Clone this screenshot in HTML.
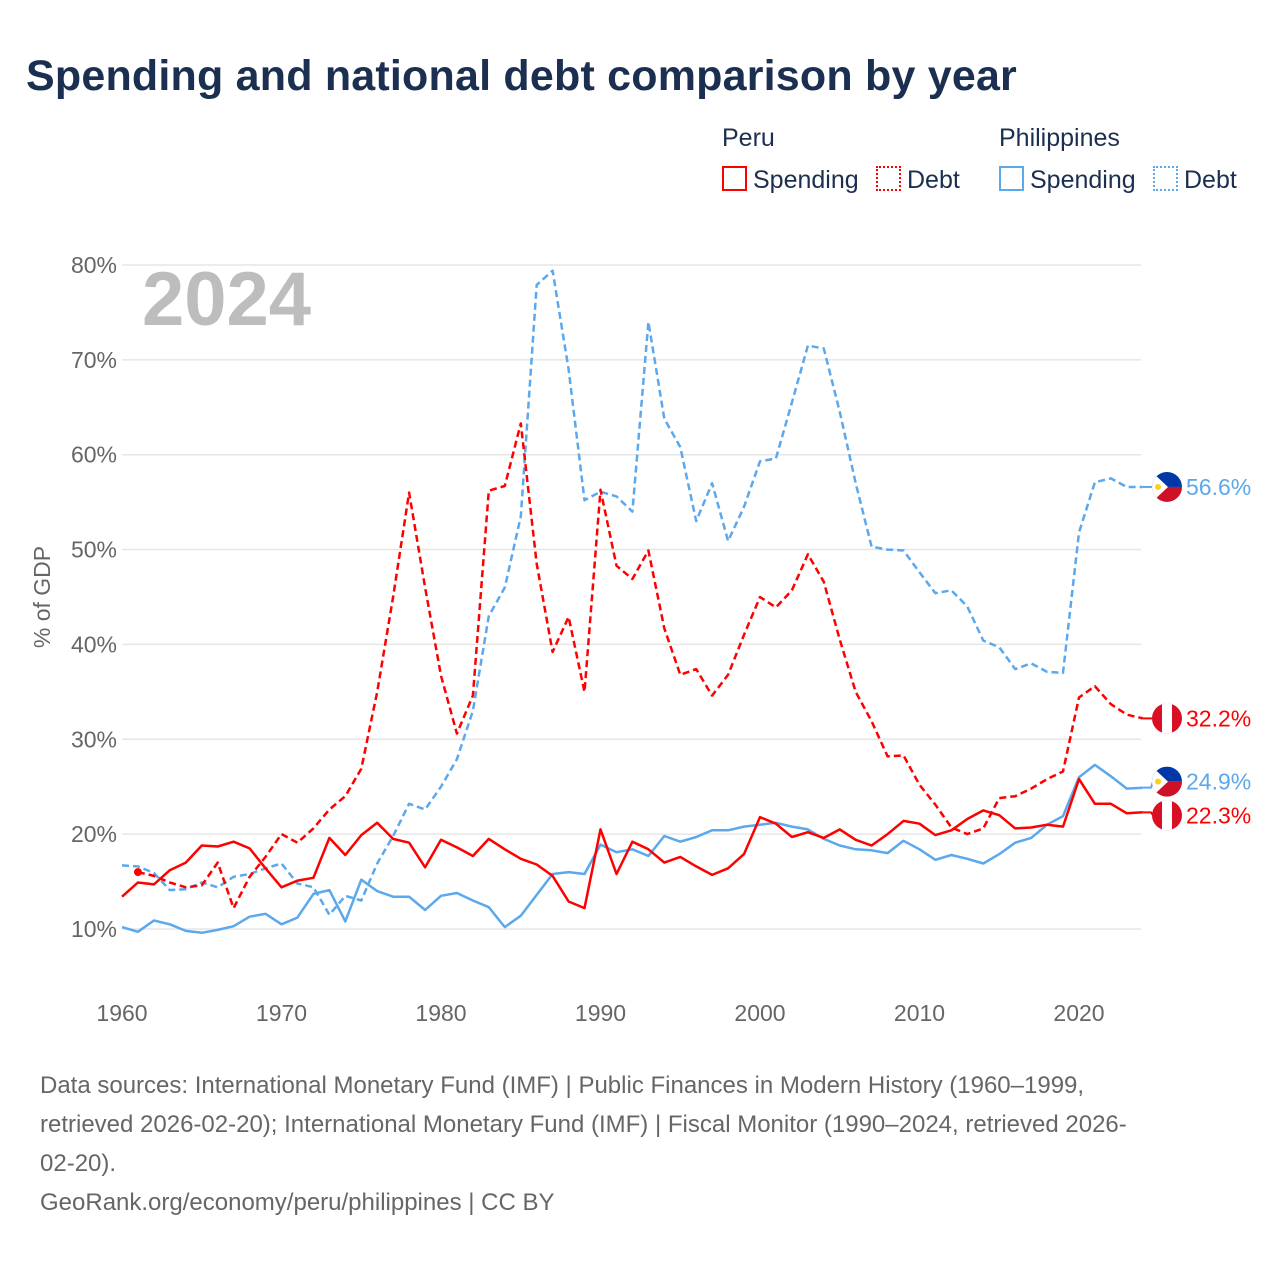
<!DOCTYPE html>
<html><head><meta charset="utf-8">
<style>
body{margin:0;background:#fff;font-family:"Liberation Sans",sans-serif;}
#root{position:relative;width:1280px;height:1280px;overflow:hidden;}
.t{position:absolute;white-space:nowrap;}
</style></head>
<body><div id="root">
<div class="t" style="left:26px;top:52px;font-size:43px;letter-spacing:0.2px;font-weight:bold;color:#1b2f50;">Spending and national debt comparison by year</div>
<div class="t" style="left:722px;top:124px;font-size:25px;color:#1b2f50;">Peru</div>
<div class="t" style="left:999px;top:124px;font-size:25px;color:#1b2f50;">Philippines</div>
<div class="t" style="left:722px;top:166px;font-size:25px;color:#1b2f50;"><span style="display:inline-block;width:21px;height:21px;border:2px solid #f00;vertical-align:-3px;margin-right:6px"></span>Spending</div>
<div class="t" style="left:876px;top:166px;font-size:25px;color:#1b2f50;"><span style="display:inline-block;width:21px;height:21px;border:2px dotted #f00;vertical-align:-3px;margin-right:6px"></span>Debt</div>
<div class="t" style="left:999px;top:166px;font-size:25px;color:#1b2f50;"><span style="display:inline-block;width:21px;height:21px;border:2px solid #5ba8ec;vertical-align:-3px;margin-right:6px"></span>Spending</div>
<div class="t" style="left:1153px;top:166px;font-size:25px;color:#1b2f50;"><span style="display:inline-block;width:21px;height:21px;border:2px dotted #5ba8ec;vertical-align:-3px;margin-right:6px"></span>Debt</div>
<svg id="chart" width="1280" height="1280" style="position:absolute;left:0;top:0"></svg>
<div class="t" style="left:40px;top:1066px;font-size:24px;line-height:39px;color:#666;">Data sources: International Monetary Fund (IMF) | Public Finances in Modern History (1960–1999,<br>retrieved 2026-02-20); International Monetary Fund (IMF) | Fiscal Monitor (1990–2024, retrieved 2026-<br>02-20).<br>GeoRank.org/economy/peru/philippines | CC BY</div>
</div>
<script>
const years=[];for(let y=1960;y<=2024;y++)years.push(y);
const peruSpending=[13.4,14.9,14.7,16.2,17.0,18.8,18.7,19.2,18.5,16.4,14.4,15.1,15.4,19.6,17.8,19.9,21.2,19.5,19.1,16.5,19.4,18.6,17.7,19.5,18.4,17.4,16.8,15.6,12.9,12.2,20.5,15.8,19.2,18.4,17.0,17.6,16.6,15.7,16.4,17.9,21.8,21.1,19.7,20.2,19.6,20.5,19.4,18.8,20.0,21.4,21.1,19.9,20.4,21.6,22.5,22.0,20.6,20.7,21.0,20.8,25.8,23.2,23.2,22.2,22.3];
const peruDebt=[null,16.0,15.6,14.9,14.4,14.6,17.0,12.2,15.5,17.6,20.0,19.1,20.6,22.6,24.0,26.9,35.0,45.0,56.0,46.0,36.7,30.6,34.6,56.2,56.7,63.3,48.5,39.2,42.9,35.0,56.3,48.3,46.9,49.9,41.7,36.8,37.4,34.6,36.8,41.0,45.0,43.9,45.7,49.5,46.6,40.5,35.0,31.9,28.2,28.3,25.2,23.1,20.7,20.0,20.6,23.8,24.0,24.8,25.8,26.6,34.4,35.6,33.7,32.6,32.2];
const phlSpending=[10.2,9.7,10.9,10.5,9.8,9.6,9.9,10.3,11.3,11.6,10.5,11.2,13.7,14.1,10.8,15.2,14.0,13.4,13.4,12.0,13.5,13.8,13.0,12.3,10.2,11.4,13.6,15.8,16.0,15.8,18.9,18.1,18.4,17.7,19.8,19.2,19.7,20.4,20.4,20.8,21.0,21.2,20.8,20.5,19.5,18.8,18.4,18.3,18.0,19.3,18.4,17.3,17.8,17.4,16.9,17.9,19.1,19.6,21.0,21.9,26.0,27.3,26.1,24.8,24.9];
const phlDebt=[16.7,16.6,15.9,14.1,14.2,14.9,14.4,15.5,15.8,16.4,16.9,14.8,14.4,11.5,13.5,13.0,16.9,19.8,23.2,22.6,25.0,27.9,33.0,43.0,46.0,53.5,77.9,79.4,69.0,55.2,56.1,55.6,54.0,74.0,63.8,60.8,53.0,57.0,50.9,54.5,59.3,59.6,65.5,71.5,71.2,64.5,57.0,50.3,50.0,49.9,47.6,45.4,45.7,44.0,40.4,39.7,37.4,38.0,37.1,37.0,51.8,57.1,57.5,56.6,56.6];
const yTicks=[10,20,30,40,50,60,70,80];
const xTicks=[1960,1970,1980,1990,2000,2010,2020];
const NS="http://www.w3.org/2000/svg";
const svg=document.getElementById('chart');
const X=y=>122+(y-1960)*15.95;
const Y=v=>929-(v-10)*9.486;
function mk(tag,at,parent){const e=document.createElementNS(NS,tag);for(const k in at)e.setAttribute(k,at[k]);(parent||svg).appendChild(e);return e;}
yTicks.forEach(t=>{
  const g=mk('line',{x1:122,x2:1141,y1:Y(t),y2:Y(t),stroke:'#e6e6e6','stroke-width':1.5});
  
  
  const l=mk('text',{x:117,y:Y(t)+8,'text-anchor':'end','font-size':23,fill:'#666','font-family':'Liberation Sans, sans-serif'});
  l.textContent=t+'%';
  
  
});
xTicks.forEach(t=>{
  const l=mk('text',{x:X(t),y:1021,'text-anchor':'middle','font-size':23,fill:'#666','font-family':'Liberation Sans, sans-serif'});
  l.textContent=t;
  
  
});
const yt=mk('text',{x:0,y:0,transform:'translate(50,597) rotate(-90)','text-anchor':'middle','font-size':23,fill:'#666','font-family':'Liberation Sans, sans-serif'});
yt.textContent='% of GDP';


const yr=mk('text',{x:142,y:325,'font-size':76,'font-weight':'bold',fill:'#bdbdbd','font-family':'Liberation Sans, sans-serif'});
yr.textContent='2024';


function series(arr,color,dash,name){
  let d='';let pen=false;
  arr.forEach((v,i)=>{if(v==null){pen=false;return;}d+=(pen?'L':'M')+X(years[i]).toFixed(1)+','+Y(v).toFixed(1);pen=true;});
  const p=mk('path',{d:d,fill:'none',stroke:color,'stroke-width':2.5,'stroke-linejoin':'round'});
  if(dash)p.setAttribute('stroke-dasharray','7,4');
  
  
}
series(phlSpending,'#5ba8ec',false,'line-philippines-spending');
series(phlDebt,'#5ba8ec',true,'line-philippines-debt');
series(peruSpending,'#f00',false,'line-peru-spending');
series(peruDebt,'#f00',true,'line-peru-debt');
const dot=mk('circle',{cx:X(1961),cy:Y(peruDebt[1]),r:4,fill:'#f00'});


function flag(v,country,color,name,shift){
  const vy=Y(v),cy=vy+shift,cx=1167;
  const g=mk('g',{});
  
  
  mk('polyline',{points:X(2024)+','+vy+' '+(cx-16)+','+vy+' '+(cx-14)+','+cy,fill:'none',stroke:color,'stroke-width':2},g);
  const cid='c'+name;
  const cp=mk('clipPath',{id:cid},g);mk('circle',{cx:cx,cy:cy,r:15},cp);
  const f=mk('g',{'clip-path':'url(#'+cid+')'},g);
  if(country==='peru'){
    mk('rect',{x:cx-15,y:cy-15,width:30,height:30,fill:'#d91023'},f);
    mk('rect',{x:cx-5,y:cy-15,width:10,height:30,fill:'#fff'},f);
  }else{
    mk('rect',{x:cx-15,y:cy-15,width:30,height:15,fill:'#0038a8'},f);
    mk('rect',{x:cx-15,y:cy,width:30,height:15,fill:'#ce1126'},f);
    mk('polygon',{points:(cx-15)+','+(cy-15)+' '+(cx+1)+','+cy+' '+(cx-15)+','+(cy+15),fill:'#fff'},f);
    mk('circle',{cx:cx-9,cy:cy,r:3,fill:'#fcd116'},f);
  }
  const t=mk('text',{x:1186,y:cy+8,'font-size':23,fill:color,'font-family':'Liberation Sans, sans-serif'},g);
  t.textContent=v.toFixed(1)+'%';
}
flag(phlDebt[64],'phl','#5ba8ec','end-label-philippines-debt',0);
flag(peruDebt[64],'peru','#f00','end-label-peru-debt',0);
flag(phlSpending[64],'phl','#5ba8ec','end-label-philippines-spending',-6);
flag(peruSpending[64],'peru','#f00','end-label-peru-spending',3);
</script>
</body></html>
